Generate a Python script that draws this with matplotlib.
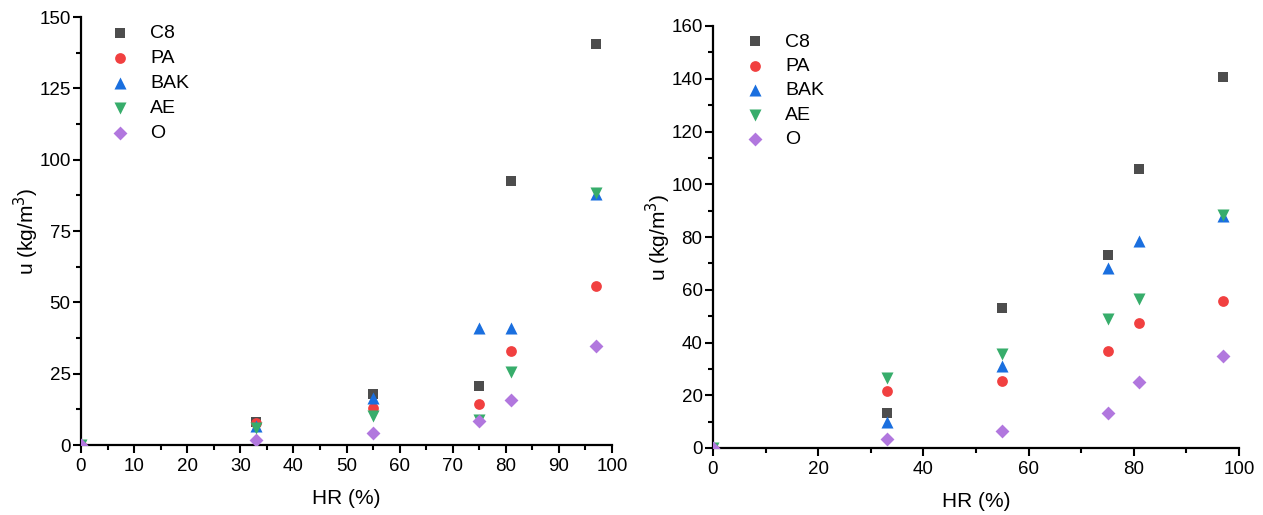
import matplotlib.pyplot as plt
from matplotlib.ticker import MultipleLocator

plt.rcParams['font.family'] = ['Liberation Sans', 'DejaVu Sans']

# relative humidity (%)
hr = [0, 33, 55, 75, 81, 97]
series = ["C8", "PA", "BAK", "AE", "O"]

# left panel, u (kg/m3)
left_c8 = [0, 8.0, 17.7, 20.6, 92.5, 140.5]
left_pa = [0, 7.7, 12.8, 14.5, 32.8, 55.8]
left_bak = [0, 6.5, 16.3, 41.0, 41.0, 88.0]
left_ae = [0, 5.8, 10.3, 8.6, 25.5, 88.3]
left_o = [0, 1.6, 4.3, 8.5, 15.8, 34.8]

# right panel, u (kg/m3)
right_c8 = [0, 13.4, 53.1, 73.3, 105.9, 140.7]
right_pa = [0, 21.6, 25.4, 36.7, 47.5, 55.9]
right_bak = [0, 10.0, 31.2, 68.1, 78.6, 88.1]
right_ae = [0, 26.4, 35.6, 49.0, 56.4, 88.3]
right_o = [0, 3.3, 6.4, 13.1, 25.1, 34.9]

colors = ["#4d4d4d", "#f14040", "#1a6fdf", "#37ad6b", "#b177de"]
markers = ["s", "o", "^", "v", "D"]
sizes = [55, 60, 75, 75, 50]

fig = plt.figure(figsize=(12.63, 5.15), dpi=100)
ax1 = fig.add_axes([81 / 1263, 1 - 445 / 515, 531 / 1263, 428 / 515])
ax2 = fig.add_axes([713 / 1263, 1 - 448 / 515, 526 / 1263, 422 / 515])


def draw(ax, data, ymax, ymaj, xmaj, leg_anchor, spacing):
    for name, vals, c, m, s in zip(series, data, colors, markers, sizes):
        ax.scatter(hr, vals, s=s, marker=m, color=c, label=name,
                   linewidths=0, zorder=3)
    ax.set_xlim(0, 100)
    ax.set_ylim(0, ymax)
    ax.xaxis.set_major_locator(MultipleLocator(xmaj))
    ax.xaxis.set_minor_locator(MultipleLocator(xmaj / 2))
    ax.yaxis.set_major_locator(MultipleLocator(ymaj))
    ax.yaxis.set_minor_locator(MultipleLocator(ymaj / 2))
    for side in ["top", "right"]:
        ax.spines[side].set_visible(False)
    for side in ["left", "bottom"]:
        ax.spines[side].set_linewidth(1.6)
    ax.tick_params(which="major", direction="out", length=6, width=1.5,
                   labelsize=13.5)
    ax.tick_params(axis="y", which="major", pad=1.5)
    ax.tick_params(which="minor", direction="out", length=3.5, width=1.5)
    ax.set_xlabel("HR (%)", fontsize=15, labelpad=10)
    ax.set_ylabel("u (kg/m$^3$)", fontsize=15, labelpad=-1)
    ax.legend(loc="upper left", bbox_to_anchor=leg_anchor, frameon=False,
              fontsize=14, handletextpad=0.75, labelspacing=spacing,
              borderaxespad=0, handlelength=1.6)


draw(ax1, [left_c8, left_pa, left_bak, left_ae, left_o], 150, 25, 10,
     (0.03, 1.0), 0.38)
draw(ax2, [right_c8, right_pa, right_bak, right_ae, right_o], 160, 20, 20,
     (0.036, 1.002), 0.35)

fig.savefig("out.png", dpi=100)
